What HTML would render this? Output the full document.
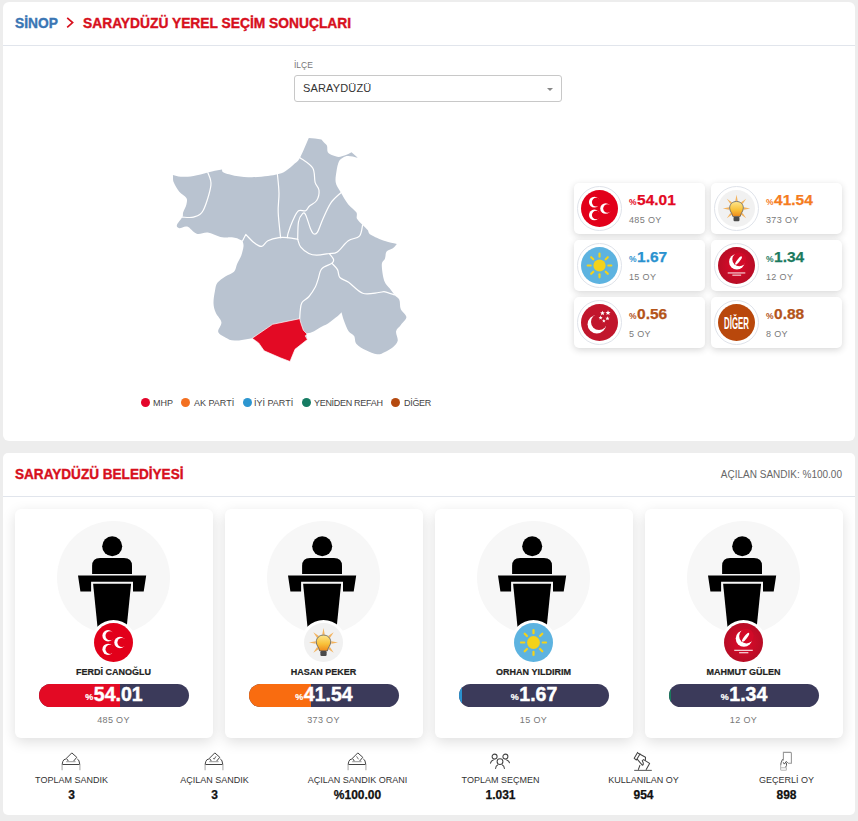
<!DOCTYPE html>
<html><head><meta charset="utf-8">
<style>
*{margin:0;padding:0;box-sizing:border-box}
html,body{width:858px;height:821px;overflow:hidden;background:#ededed;font-family:"Liberation Sans",sans-serif}
.a{position:absolute}
.card{position:absolute;background:#fff;border-radius:5px}
.hr{position:absolute;height:1px;background:#e1e5ec}
.t{position:absolute;white-space:nowrap;line-height:1}
.tile{position:absolute;width:131px;height:50.5px;background:#fff;border-radius:5px;box-shadow:0 2px 7px rgba(0,0,0,.16)}
.tile .ring{position:absolute;left:3px;top:3px;width:45px;height:45px;border-radius:50%;border:1px solid #dfe3ea;background:#fff}
.tile svg{position:absolute;left:7px;top:7px;width:37px;height:37px}
.tile .pct{position:absolute;left:55px;top:9px;font-weight:bold;font-size:15.5px;line-height:1;white-space:nowrap;-webkit-text-stroke:.25px currentColor}
.tile .pct small{font-size:8.5px;-webkit-text-stroke:0;margin-right:.5px}
.tile .oy{position:absolute;left:55px;top:32.5px;font-size:9px;color:#7a7a7a;line-height:1;white-space:nowrap;letter-spacing:.35px}
.cand{position:absolute;top:509px;width:198px;height:229px;background:#fff;border-radius:6px;box-shadow:0 4px 14px rgba(0,0,0,.13)}
.cand .circ{position:absolute;left:42px;top:11.5px;width:113px;height:113px;border-radius:50%;background:#f7f7f7}
.cand .pod{position:absolute;left:42px;top:12px;width:113px;height:113px}
.cand .lring{position:absolute;left:76px;top:111px;width:45px;height:45px;border-radius:50%;background:#fff}
.cand .logo{position:absolute;left:79px;top:114px;width:39px;height:39px}
.cand .name{position:absolute;left:0;width:197px;top:158.5px;text-align:center;font-weight:bold;font-size:9px;color:#222;line-height:1;-webkit-text-stroke:.2px #222}
.cand .bar{position:absolute;left:24px;top:175px;width:150px;height:23px;border-radius:12px;background:#3b3a5a;overflow:hidden}
.cand .fill{position:absolute;left:0;top:0;height:23px}
.cand .val{position:absolute;left:0;width:150px;top:1px;text-align:center;color:#fff;font-weight:bold;font-size:19.5px;line-height:1;-webkit-text-stroke:.45px #fff}
.cand .val small{font-size:9px;-webkit-text-stroke:.2px #fff;margin-right:.5px;position:relative;top:-1px}
.cand .oy{position:absolute;left:0;width:197px;top:207px;text-align:center;font-size:9px;color:#777;line-height:1;letter-spacing:.35px}
.stat{position:absolute;top:750px;width:143px;text-align:center}
.stat svg{position:absolute;left:58px;top:-2px;width:26px;height:26px}
.stat .l{position:absolute;left:0;width:143px;top:25.7px;font-size:9px;color:#333;line-height:1}
.stat .v{position:absolute;left:0;width:143px;top:39px;font-size:12px;font-weight:bold;color:#111;line-height:1;-webkit-text-stroke:.25px #111}
.hd{font-size:15px;font-weight:bold;transform-origin:0 0;transform:scaleX(.92);-webkit-text-stroke:.4px currentColor}
.leg{position:absolute;top:399px;font-size:9px;color:#444;line-height:1;white-space:nowrap}
.dot{position:absolute;width:9px;height:9px;border-radius:50%}
</style></head><body>
<svg width="0" height="0" style="position:absolute">
<defs>
<symbol id="mhp" viewBox="-20 -20 40 40">
<circle r="20" fill="#e2001a"/>
<g fill="#fff"><circle cx="-5.6" cy="-6.9" r="5.8"/><circle cx="-5.6" cy="7" r="5.8"/><circle cx="6.6" cy="0" r="5.8"/></g>
<g fill="#e2001a"><circle cx="-3.5" cy="-6.9" r="4.7"/><circle cx="-3.5" cy="7" r="4.7"/><circle cx="8.7" cy="0" r="4.7"/></g>
</symbol>
<symbol id="ak" viewBox="-20 -20 40 40">
<defs><linearGradient id="bg1" x1="0" y1="0" x2="0" y2="1"><stop offset="0" stop-color="#fde68e"/><stop offset=".55" stop-color="#f9c23a"/><stop offset="1" stop-color="#f08a1c"/></linearGradient></defs>
<circle r="20" fill="#f1f1f1"/>
<g fill="#f5ad4e" opacity=".9"><path d="M0,-14.8 L1.3,-8 L-1.3,-8Z" transform="rotate(0)"/><path d="M0,-14.8 L1.3,-8 L-1.3,-8Z" transform="rotate(45)"/><path d="M0,-14.8 L1.3,-8 L-1.3,-8Z" transform="rotate(90)"/><path d="M0,-14.8 L1.3,-8 L-1.3,-8Z" transform="rotate(135)"/><path d="M0,-14.8 L1.3,-8 L-1.3,-8Z" transform="rotate(225)"/><path d="M0,-14.8 L1.3,-8 L-1.3,-8Z" transform="rotate(270)"/><path d="M0,-14.8 L1.3,-8 L-1.3,-8Z" transform="rotate(315)"/></g>
<path d="M0,-7.6 C4.6,-7.6 7.4,-4.4 7.4,-0.6 C7.4,2.8 4.8,4.8 4,8.6 L-4,8.6 C-4.8,4.8 -7.4,2.8 -7.4,-0.6 C-7.4,-4.4 -4.6,-7.6 0,-7.6Z" fill="url(#bg1)" stroke="#555" stroke-width=".8"/>
<rect x="-3.2" y="8.8" width="6.4" height="5" rx="1.2" fill="#4a4a4a"/>
</symbol>
<symbol id="iyi" viewBox="-20 -20 40 40">
<circle r="20" fill="#5db3e0"/>
<circle r="6.6" fill="#f3d21b"/>
<g stroke="#f3d21b" stroke-width="2.3" stroke-linecap="round">
<line x1="0" y1="-9.5" x2="0" y2="-12.8"/><line x1="0" y1="9.5" x2="0" y2="12.8"/><line x1="-9.5" y1="0" x2="-12.8" y2="0"/><line x1="9.5" y1="0" x2="12.8" y2="0"/>
<line x1="6.7" y1="-6.7" x2="9" y2="-9"/><line x1="-6.7" y1="-6.7" x2="-9" y2="-9"/><line x1="6.7" y1="6.7" x2="9" y2="9"/><line x1="-6.7" y1="6.7" x2="-9" y2="9"/>
</g>
</symbol>
<symbol id="yrp" viewBox="-20 -20 40 40">
<defs><radialGradient id="yg" cx="50%" cy="50%" r="55%"><stop offset="0" stop-color="#e0092a"/><stop offset="1" stop-color="#b30d25"/></radialGradient></defs>
<circle r="20" fill="url(#yg)"/>
<circle cx="0.4" cy="-4" r="8.4" fill="#fff"/>
<circle cx="3" cy="-6.6" r="7.5" fill="#d20a28"/>
<ellipse cx="2.2" cy="-5.4" rx="1.5" ry="5.6" transform="rotate(38 2.2 -5.4)" fill="#fff"/>
<rect x="-9.5" y="7.4" width="19" height="1.3" fill="#fff" opacity=".8"/>
<rect x="-4.5" y="9.8" width="9.5" height="1.3" fill="#fff" opacity=".8"/>
</symbol>
<symbol id="sp" viewBox="-20 -20 40 40">
<circle r="20" fill="#c1162c"/>
<circle cx="-2.9" cy="1.9" r="10" fill="#fff"/>
<circle cx="-0.5" cy="-0.5" r="8.7" fill="#c1162c"/>
<g fill="#fff"><path d="M3.20,-12.70 L3.91,-10.98 L5.77,-10.83 L4.36,-9.62 L4.79,-7.82 L3.20,-8.79 L1.61,-7.82 L2.04,-9.62 L0.63,-10.83 L2.49,-10.98Z"/><path d="M9.20,-13.30 L9.97,-11.46 L11.96,-11.30 L10.44,-10.00 L10.90,-8.05 L9.20,-9.10 L7.50,-8.05 L7.96,-10.00 L6.44,-11.30 L8.43,-11.46Z"/><path d="M1.20,-7.50 L1.81,-6.04 L3.39,-5.91 L2.18,-4.88 L2.55,-3.34 L1.20,-4.17 L-0.15,-3.34 L0.22,-4.88 L-0.99,-5.91 L0.59,-6.04Z"/><path d="M8.60,-6.70 L9.23,-5.17 L10.88,-5.04 L9.63,-3.97 L10.01,-2.36 L8.60,-3.22 L7.19,-2.36 L7.57,-3.97 L6.32,-5.04 L7.97,-5.17Z"/><path d="M4.70,-3.90 L5.26,-2.56 L6.70,-2.45 L5.60,-1.51 L5.93,-0.10 L4.70,-0.85 L3.47,-0.10 L3.80,-1.51 L2.70,-2.45 L4.14,-2.56Z"/></g>
</symbol>
<symbol id="dig" viewBox="-20 -20 40 40">
<circle r="20" fill="#b9480c"/>
<text x="0" y="6.9" text-anchor="middle" font-family="Liberation Sans" font-weight="bold" font-size="18" fill="#fff" textLength="27" lengthAdjust="spacingAndGlyphs">DİĞER</text>
</symbol>
<symbol id="podium" viewBox="0 0 113 113">
<circle cx="55.2" cy="25.3" r="10"/>
<path d="M35.1,53 L35.1,45 Q35.1,37 43,37 L67,37 Q75,37 75,45 L75,53Z"/>
<path d="M21,54.5 L89.2,54.5 L86.7,70.5 L76,70.5 L76,60.7 L34.1,60.7 L34.1,70.5 L23.4,70.5Z"/>
<path d="M36.1,62.7 L74.1,62.7 L69.7,106 L40.5,106Z"/>
</symbol>
<symbol id="box" viewBox="0 0 26 26">
<g fill="none" stroke="#444" stroke-width="1" stroke-linejoin="round">
<path d="M10.4,13.2 L8.4,10.3 L13.8,4.9 L18.8,9.3 L15.5,13.2"/>
<path d="M4.1,16.5 L4.8,13.5 Q5.5,11.2 7.9,11 M19.3,11.1 Q20.6,11.6 21,13 L21.8,16.5 M4.1,16.5 L21.8,16.5"/>
</g>
<path d="M8.2,13.7 L17.6,13.7" stroke="#999" stroke-width="1"/>
<path d="M4.1,16.5 L4.1,22.2 M21.9,16.5 L21.9,22.2" stroke="#bbb" stroke-width="1.3"/>
</symbol>
<symbol id="boxc" viewBox="0 0 26 26"><use href="#box"/><path d="M12.2,10.2 L13.2,11.2 L15,8.3" fill="none" stroke="#555" stroke-width=".9"/></symbol>
<symbol id="boxp" viewBox="0 0 26 26"><use href="#box"/><path d="M12.5,8.3 L14.5,11.3" fill="none" stroke="#777" stroke-width="1"/></symbol>
<symbol id="ppl" viewBox="0 0 26 26">
<g fill="none" stroke="#444" stroke-width="1.05" stroke-linecap="round">
<circle cx="7.6" cy="8.6" r="2.5"/><circle cx="18.4" cy="8.6" r="2.5"/><circle cx="13" cy="13.6" r="2.9"/>
<path d="M6.3,11.9 Q4,12.6 3.5,15.2"/><path d="M19.7,11.9 Q22,12.6 22.5,14.8"/>
<path d="M10.6,17 Q8.8,17.8 8.6,20.5"/><path d="M15.4,17 Q17.2,17.8 17.4,20.5"/>
</g></symbol>
<symbol id="vote" viewBox="0 0 26 26">
<g fill="none" stroke="#444" stroke-width="1.05" stroke-linejoin="round" stroke-linecap="round">
<path d="M7.6,4.4 L4.2,10.3 L6.4,12 L10,6"/>
<path d="M8.2,5.2 L15.5,9.2 L15.4,12.3"/>
<path d="M7.4,11.4 L12.3,17.2 Q13.6,17 13.2,14.8 L12.2,12.6 L13.6,11.6 L19.6,15.4 L16.2,21.4"/>
<path d="M9.9,17.4 L8.4,21.4"/>
</g>
<path d="M4.2,22.4 L21.8,22.4" stroke="#666" stroke-width="1.1"/>
</symbol>
<symbol id="phone" viewBox="0 0 26 26">
<path d="M10.4,12.5 L10.4,4.4 L17.6,4.4 Q18.4,4.4 18.4,5.4 L18.4,15.3 L15,15.3" fill="none" stroke="#999" stroke-width="1.1"/>
<g fill="none" stroke="#555" stroke-width="1" stroke-linejoin="round" stroke-linecap="round">
<path d="M9.4,11.6 L8.1,14.8 L7.7,17 M10.4,14.6 L11.3,16.1 L13.3,13.4 L14.4,14.6 M13.4,15.2 L13.5,17.4 L12.6,19.2"/>
</g>
<path d="M7.6,16.5 L7.6,21.6 Q7.6,22.2 8.4,22.2 L12.8,22.2 Q13.4,22.2 13.4,21.4 L13.4,19.8 L7.6,19.8" fill="none" stroke="#bbb" stroke-width="1.1"/>
</symbol>
</defs>
</svg>

<!-- CARD 1 -->
<div class="card" style="left:3px;top:2px;width:852px;height:439px;border-radius:6px"></div>
<div class="hr" style="left:3px;top:45px;width:852px"></div>
<div class="t hd" style="left:15px;top:14.5px;color:#3a76b4">SİNOP</div>
<svg class="a" style="left:66px;top:17px" width="9" height="12" viewBox="0 0 9 12"><path d="M1.2,0.9 L6.6,5.6 L1.2,10.3" fill="none" stroke="#d7101d" stroke-width="1.7"/></svg>
<div class="t hd" style="left:83px;top:14.5px;color:#d7101d">SARAYDÜZÜ YEREL SEÇİM SONUÇLARI</div>

<div class="t" style="left:294px;top:61px;font-size:8.5px;color:#777">İLÇE</div>
<div class="a" style="left:294px;top:75px;width:268px;height:27px;border:1px solid #c8c8c8;border-radius:3px"></div>
<div class="t" style="left:303px;top:83px;font-size:11px;color:#333;letter-spacing:.15px">SARAYDÜZÜ</div>
<div class="a" style="left:547px;top:88px;width:0;height:0;border-left:3px solid transparent;border-right:3px solid transparent;border-top:3px solid #888"></div>

<!-- MAP -->
<svg class="a" style="left:160px;top:130px" width="260" height="240" viewBox="160 130 260 240">
<path fill="#b9c3d0" d="M172.9,175.1 C175.5,175.6 177.4,176.6 180.8,176.7 C184.2,176.8 189.0,176.6 193.5,175.9 C198.0,175.2 203.1,173.5 207.8,172.4 C212.6,171.3 217.3,170.5 222.0,169.6 C222.5,170.5 221.2,171.3 223.6,172.4 C226.0,173.5 231.6,175.1 236.3,175.9 C241.1,176.7 246.8,177.2 252.1,177.2 C257.4,177.2 263.7,176.4 267.9,175.9 C272.1,175.4 274.5,175.1 277.4,174.3 C280.3,173.5 282.4,173.0 285.3,171.2 C288.2,169.4 292.6,165.6 295.0,163.3 C297.4,161.1 297.7,161.9 300.0,157.7 C302.3,153.5 305.9,144.5 308.8,137.9 C310.9,138.1 312.9,138.3 315.0,138.6 C317.1,138.9 319.3,139.2 321.4,139.5 C322.3,140.5 323.1,141.4 324.0,142.5 C324.9,143.6 326.4,144.2 327.0,145.8 C327.6,147.4 326.9,150.6 327.8,152.2 C328.7,153.8 330.7,154.5 332.5,155.3 C334.3,156.1 336.7,156.9 338.8,156.9 C340.9,156.9 343.1,156.1 345.2,155.3 C347.3,154.5 349.4,153.2 351.5,152.2 C353.6,154.0 355.7,155.9 357.8,157.7 C354.6,157.2 350.8,156.1 348.3,156.1 C345.8,156.1 344.4,156.8 342.8,157.7 C341.2,158.6 339.9,159.4 338.8,161.7 C337.8,163.9 337.0,167.8 336.5,171.2 C336.0,174.6 335.1,178.9 335.7,182.3 C336.3,185.7 338.3,188.1 340.4,191.8 C342.5,195.5 345.6,201.0 348.3,204.4 C351.0,207.8 354.9,209.9 356.3,212.3 C357.8,214.7 355.9,216.6 357.0,218.7 C358.1,220.8 360.8,223.1 362.6,225.0 C364.4,226.9 366.2,228.4 367.6,230.0 C369.0,231.6 367.9,233.0 370.8,234.8 C373.7,236.7 380.6,239.6 385.0,241.1 C389.4,242.6 392.9,243.0 396.9,243.9 C395.6,245.3 394.6,246.9 392.9,248.2 C391.2,249.4 387.9,249.7 386.6,251.4 C385.3,253.1 385.8,256.3 385.0,258.5 C384.2,260.7 381.9,261.1 381.8,264.8 C381.7,268.5 382.9,276.7 384.2,280.7 C385.5,284.7 388.1,286.2 389.8,288.6 C391.5,291.0 392.9,293.0 394.5,294.9 C396.1,296.8 398.2,297.3 399.3,299.7 C400.4,302.1 399.6,306.3 400.8,309.2 C402.0,312.1 406.4,314.5 406.4,317.1 C406.4,319.7 402.5,322.6 400.8,325.0 C399.1,327.4 396.6,328.7 396.1,331.3 C395.6,333.9 398.2,338.2 397.7,340.8 C397.2,343.4 395.0,345.4 392.9,347.2 C390.8,349.0 387.6,350.7 385.0,351.9 C382.4,353.1 380.3,354.6 377.1,354.3 C373.9,354.0 369.4,352.0 366.0,350.3 C362.6,348.6 358.5,346.4 356.5,344.0 C354.5,341.6 355.4,338.2 354.1,336.1 C352.8,334.0 350.3,333.9 348.6,331.3 C346.9,328.7 345.0,323.5 343.8,320.3 C342.6,317.1 342.3,315.0 341.5,312.3 C340.2,313.6 339.8,314.5 337.5,316.3 C335.2,318.1 330.9,321.5 328.0,323.4 C325.1,325.2 322.7,325.9 320.1,327.4 C317.5,328.8 314.6,331.1 312.2,332.1 C309.8,333.2 307.9,333.2 305.8,333.7 C306.3,335.6 306.9,337.4 307.4,339.3 C298.3,339.2 289.1,339.1 280.0,339.0 C270.8,338.7 261.5,338.5 252.3,338.2 C246.5,339.0 239.3,340.7 234.8,340.6 C230.3,340.5 228.1,338.9 225.3,337.4 C222.5,335.9 218.8,334.3 218.2,331.8 C217.5,329.3 221.8,325.5 221.4,322.3 C221.0,319.1 217.1,316.0 215.8,312.8 C214.5,309.6 213.6,307.0 213.5,303.3 C213.4,299.6 214.3,294.1 215.0,290.7 C215.7,287.3 215.7,285.2 217.4,282.8 C219.1,280.4 222.5,278.2 225.3,276.4 C228.1,274.5 232.0,273.8 234.0,271.7 C236.0,269.6 236.0,266.4 237.2,263.8 C238.4,261.2 240.1,258.7 241.2,255.8 C242.2,252.9 243.3,248.8 243.5,246.3 C243.7,243.8 242.9,242.6 242.6,240.8 C240.0,239.8 238.4,238.3 234.7,237.7 C231.0,237.0 224.9,237.8 220.4,236.9 C215.9,236.1 211.8,233.1 207.8,232.6 C203.9,232.1 200.1,234.7 196.7,233.7 C193.3,232.7 190.1,227.5 187.2,226.6 C184.3,225.7 181.0,228.5 179.3,228.2 C177.6,227.9 176.4,226.8 176.9,225.0 C177.4,223.2 181.4,219.2 182.4,217.1 C183.4,215.0 182.5,214.4 183.2,212.3 C183.9,210.2 185.9,206.8 186.4,204.4 C186.9,202.0 187.6,200.2 186.4,198.1 C185.2,196.0 181.4,194.4 179.3,191.8 C177.2,189.2 174.8,185.1 173.7,182.3 C172.6,179.5 173.2,177.5 172.9,175.1Z"/>
<g fill="none" stroke="#fff" stroke-width="1.2" stroke-linejoin="round" stroke-linecap="round">
<path d="M207.8,172.4 C208.3,174.6 211.7,179.0 210.9,185.4 C210.1,191.8 205.9,205.5 203.0,210.8 C200.1,216.1 196.9,216.1 193.5,217.1 C190.1,218.1 184.2,217.1 182.4,217.1"/>
<path d="M277.4,174.3 C277.7,177.5 278.9,187.0 279.0,193.3 C279.1,199.6 277.9,204.9 278.2,212.3 C278.5,219.7 280.2,233.5 280.6,237.7"/>
<path d="M242.6,240.8 C243.1,239.8 244.7,236.6 245.8,234.5 C248.4,237.1 251.1,240.4 253.7,242.4 C256.3,244.4 259.2,246.7 261.6,246.4 C264.0,246.1 265.0,242.2 267.9,240.8 C270.8,239.4 275.8,238.2 279.0,237.7 C282.2,237.2 284.3,237.4 287.4,237.7 C290.5,238.0 296.0,239.0 297.7,239.3"/>
<path d="M300.0,157.7 C302.1,159.4 310.2,163.9 312.7,168.0 C315.2,172.1 314.1,178.6 315.1,182.3 C316.2,186.0 318.7,187.2 319.0,190.2 C319.3,193.2 318.3,197.9 316.7,200.5 C315.1,203.1 311.4,204.3 309.5,206.0 C307.6,207.7 307.4,210.0 305.6,210.8 C303.8,211.6 300.6,209.2 298.5,210.8 C296.4,212.4 294.6,216.6 292.9,220.3 C291.2,224.0 289.1,230.0 288.2,232.9 C287.3,235.8 287.5,236.9 287.4,237.7"/>
<path d="M297.7,239.3 C297.8,236.4 297.7,226.0 298.5,221.8 C299.3,217.6 301.2,215.1 302.4,213.9 C303.6,212.7 304.3,212.3 305.6,214.7 C306.9,217.1 309.0,225.0 310.3,228.2 C311.6,231.4 312.3,233.0 313.5,233.7 C314.7,234.3 315.9,234.6 317.5,232.1 C319.1,229.6 320.8,223.6 323.0,218.7 C325.2,213.8 327.9,207.2 330.9,202.8 C333.9,198.4 339.5,194.2 341.2,192.5"/>
<path d="M297.7,239.3 C298.2,240.6 298.9,244.8 300.8,247.2 C302.7,249.6 306.2,252.2 308.8,253.5 C311.4,254.8 313.3,255.1 316.7,255.1 C320.1,255.1 325.9,254.0 329.3,253.5 C332.7,253.0 334.1,254.0 337.3,251.9 C340.5,249.8 344.6,243.4 348.3,240.8 C352.0,238.2 357.0,238.7 359.4,236.1 C361.8,233.5 362.1,226.8 362.6,225.0"/>
<path d="M329.6,253.8 C330.2,254.7 333.1,257.7 333.5,259.3 C333.9,260.9 334.0,261.7 332.0,263.3 C330.0,264.9 324.0,266.1 321.7,268.8 C319.4,271.5 319.1,276.6 318.0,279.6 C316.9,282.6 316.8,284.2 315.3,287.0 C313.8,289.8 311.2,293.9 309.0,296.5 C306.8,299.1 303.4,300.2 302.0,302.5 C300.6,304.8 300.7,307.3 300.3,310.0 C299.9,312.7 299.9,315.8 299.7,318.7"/>
<path d="M332.0,263.3 C332.9,264.4 336.2,267.2 337.5,269.6 C338.8,272.0 338.0,275.4 339.9,277.5 C341.8,279.6 344.8,279.7 348.6,282.3 C352.4,284.9 357.8,291.6 362.8,293.3 C367.8,295.0 375.0,292.8 378.7,292.5 C382.4,292.2 382.4,291.4 385.0,291.8 C387.6,292.2 392.9,294.4 394.5,294.9"/>
</g>
<path fill="#e30a24" stroke="#fff" stroke-width=".7" stroke-linejoin="round" d="M252.1,338.3 L272.6,324.3 L299.7,318.7 L301.1,323.8 L303.4,330.3 L307.1,334.1 L305.3,335.9 L307.4,339.5 L295,349.3 L290,361.5 L280.8,358 L264.1,350.8 L258.6,342.9Z"/>
</svg>

<!-- TILES -->
<div class="tile" style="left:574px;top:183px"><div class="ring"></div><svg><use href="#mhp"/></svg><div class="pct" style="color:#e30a24"><small>%</small>54.01</div><div class="oy">485 OY</div></div>
<div class="tile" style="left:711px;top:183px"><div class="ring"></div><svg><use href="#ak"/></svg><div class="pct" style="color:#f57c1f"><small>%</small>41.54</div><div class="oy">373 OY</div></div>
<div class="tile" style="left:574px;top:240px"><div class="ring"></div><svg><use href="#iyi"/></svg><div class="pct" style="color:#2a92cf"><small>%</small>1.67</div><div class="oy">15 OY</div></div>
<div class="tile" style="left:711px;top:240px"><div class="ring"></div><svg><use href="#yrp"/></svg><div class="pct" style="color:#1b7a5e"><small>%</small>1.34</div><div class="oy">12 OY</div></div>
<div class="tile" style="left:574px;top:297px"><div class="ring"></div><svg><use href="#sp"/></svg><div class="pct" style="color:#b4541a"><small>%</small>0.56</div><div class="oy">5 OY</div></div>
<div class="tile" style="left:711px;top:297px"><div class="ring"></div><svg><use href="#dig"/></svg><div class="pct" style="color:#b4541a"><small>%</small>0.88</div><div class="oy">8 OY</div></div>

<!-- LEGEND -->
<div class="dot" style="left:141px;top:398px;background:#e4062b"></div><div class="leg" style="left:153px">MHP</div>
<div class="dot" style="left:181px;top:398px;background:#f37021"></div><div class="leg" style="left:194px">AK PARTİ</div>
<div class="dot" style="left:243px;top:398px;background:#2d96d0"></div><div class="leg" style="left:254px">İYİ PARTİ</div>
<div class="dot" style="left:302px;top:398px;background:#167c63"></div><div class="leg" style="left:314px;letter-spacing:-.3px">YENİDEN REFAH</div>
<div class="dot" style="left:391px;top:398px;background:#b54a10"></div><div class="leg" style="left:404px;letter-spacing:-.3px">DİĞER</div>

<!-- CARD 2 -->
<div class="card" style="left:3px;top:453px;width:852px;height:362px"></div>
<div class="hr" style="left:3px;top:496px;width:852px"></div>
<div class="t hd" style="left:15px;top:465.7px;color:#d7101d;transform:scaleX(.905)">SARAYDÜZÜ BELEDİYESİ</div>
<div class="t" style="right:16px;top:470px;font-size:10px;color:#666">AÇILAN SANDIK: %100.00</div>

<div class="cand" style="left:15px"><div class="circ"></div><svg class="pod"><use href="#podium"/></svg><div class="lring"></div><svg class="logo"><use href="#mhp"/></svg><div class="name">FERDİ CANOĞLU</div><div class="bar"><div class="fill" style="width:81px;background:#e30a24"></div><div class="val"><small>%</small>54.01</div></div><div class="oy">485 OY</div></div>
<div class="cand" style="left:225px"><div class="circ"></div><svg class="pod"><use href="#podium"/></svg><div class="lring"></div><svg class="logo"><use href="#ak"/></svg><div class="name">HASAN PEKER</div><div class="bar"><div class="fill" style="width:62px;background:#f96c10"></div><div class="val"><small>%</small>41.54</div></div><div class="oy">373 OY</div></div>
<div class="cand" style="left:435px"><div class="circ"></div><svg class="pod"><use href="#podium"/></svg><div class="lring"></div><svg class="logo"><use href="#iyi"/></svg><div class="name">ORHAN YILDIRIM</div><div class="bar"><div class="fill" style="width:3px;background:#2a92cf"></div><div class="val"><small>%</small>1.67</div></div><div class="oy">15 OY</div></div>
<div class="cand" style="left:645px"><div class="circ"></div><svg class="pod"><use href="#podium"/></svg><div class="lring"></div><svg class="logo"><use href="#yrp"/></svg><div class="name">MAHMUT GÜLEN</div><div class="bar"><div class="fill" style="width:2px;background:#1b7a5e"></div><div class="val"><small>%</small>1.34</div></div><div class="oy">12 OY</div></div>

<!-- STATS -->
<div class="stat" style="left:0"><svg viewBox="0 0 26 26"><use href="#box"/></svg><div class="l">TOPLAM SANDIK</div><div class="v">3</div></div>
<div class="stat" style="left:143px"><svg viewBox="0 0 26 26"><use href="#boxc"/></svg><div class="l">AÇILAN SANDIK</div><div class="v">3</div></div>
<div class="stat" style="left:286px"><svg viewBox="0 0 26 26"><use href="#boxp"/></svg><div class="l">AÇILAN SANDIK ORANI</div><div class="v">%100.00</div></div>
<div class="stat" style="left:429px"><svg viewBox="0 0 26 26"><use href="#ppl"/></svg><div class="l">TOPLAM SEÇMEN</div><div class="v">1.031</div></div>
<div class="stat" style="left:572px"><svg viewBox="0 0 26 26"><use href="#vote"/></svg><div class="l">KULLANILAN OY</div><div class="v">954</div></div>
<div class="stat" style="left:715px"><svg viewBox="0 0 26 26"><use href="#phone"/></svg><div class="l">GEÇERLİ OY</div><div class="v">898</div></div>
</body></html>
